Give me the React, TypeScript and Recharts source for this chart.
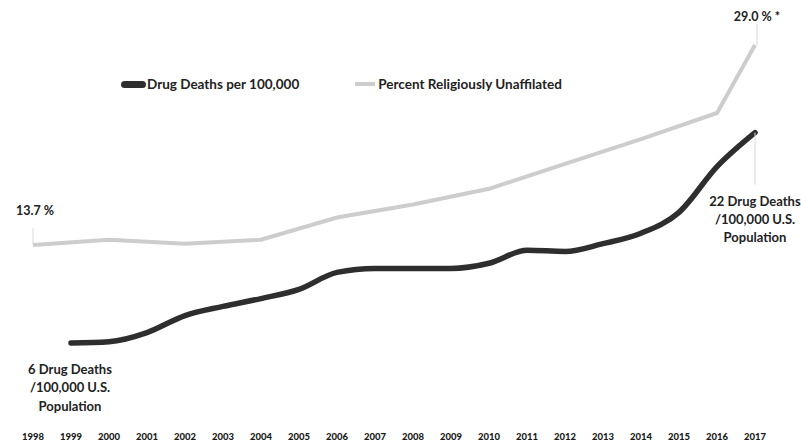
import React from "react";
import { LineChart, Line, XAxis, YAxis, LabelList } from "recharts";

const years = [1998, 1999, 2000, 2001, 2002, 2003, 2004, 2005, 2006, 2007, 2008, 2009, 2010, 2011, 2012, 2013, 2014, 2015, 2016, 2017];
const drugDeaths: (number | null)[] = [null, 6.2, 6.3, 7.0, 8.3, 9.0, 9.6, 10.3, 11.6, 11.9, 11.9, 11.9, 12.3, 13.3, 13.2, 13.8, 14.6, 16.2, 19.7, 22.3];
const unaffiliated: (number | null)[] = [13.7, null, 14.1, null, 13.8, null, 14.1, null, 15.8, null, 16.8, null, 18.0, null, 19.9, null, 21.8, null, 23.8, 29.0];
const seriesNames = ["Drug Deaths per 100,000", "Percent Religiously Unaffilated"];
const seriesColors = ["#2e2e2e", "#cdcdcd"];

const data = years.map((y, i) => ({ year: y, deaths: drugDeaths[i], unaff: unaffiliated[i] }));

const FONT = "Lato, 'Open Sans', sans-serif";
const lastIdx = years.length - 1;

const GrayLabel = (props: any) => {
  const { x, y, value, index } = props;
  if (value == null) return null;
  if (index === 0) {
    return (
      <g>
        <line x1={x} y1={y - 17} x2={x} y2={y} stroke="#d8d8d8" strokeWidth={1} />
        <text x={x + 2} y={y - 30} textAnchor="middle" fontFamily={FONT} fontWeight={700} fontSize={12.5} fill="#222">
          {`${Number(value).toFixed(1)} %`}
        </text>
      </g>
    );
  }
  if (index === lastIdx) {
    return (
      <g>
        <line x1={x + 2} y1={y - 21} x2={x + 2} y2={y} stroke="#d8d8d8" strokeWidth={1} />
        <text x={x + 2} y={y - 24} textAnchor="middle" fontFamily={FONT} fontWeight={700} fontSize={12.5} fill="#222">
          {`${Number(value).toFixed(1)} % *`}
        </text>
      </g>
    );
  }
  return null;
};

const BlackLabel = (props: any) => {
  const { x, y, value, index } = props;
  if (value == null) return null;
  const n = Math.round(Number(value));
  const lines = [`${n} Drug Deaths`, "/100,000 U.S.", "Population"];
  if (index === 1) {
    return (
      <g>
        {lines.map((t, k) => (
          <text key={k} x={x - 1} y={y + 31 + k * 18.5} textAnchor="middle" fontFamily={FONT} fontWeight={700} fontSize={13} fill="#222">
            {t}
          </text>
        ))}
      </g>
    );
  }
  if (index === lastIdx) {
    return (
      <g>
        <line x1={x} y1={y} x2={x} y2={y + 52} stroke="#d8d8d8" strokeWidth={1} />
        {lines.map((t, k) => (
          <text key={k} x={x} y={y + 73 + k * 18} textAnchor="middle" fontFamily={FONT} fontWeight={700} fontSize={13} fill="#222">
            {t}
          </text>
        ))}
      </g>
    );
  }
  return null;
};

export default function App() {
  return (
    <div style={{ position: "absolute", left: 0, top: 0, width: 801, height: 445, background: "#fff" }}>
      <LineChart
        width={801}
        height={445}
        data={data}
        margin={{ top: 32, right: 46, bottom: 0, left: 33 }}
      >
        <XAxis
          dataKey="year"
          type="number"
          domain={[1998, 2017]}
          ticks={years}
          interval={0}
          axisLine={false}
          tickLine={false}
          height={21}
          tickMargin={3}
          tick={{ fontFamily: FONT, fontWeight: 900, fontSize: 9.5, fill: "#1a1a1a" }}
        />
        <YAxis hide domain={[0, 30]} />
        <Line
          dataKey="unaff"
          type="linear"
          stroke={seriesColors[1]}
          strokeWidth={4}
          dot={false}
          connectNulls
          isAnimationActive={false}
        >
          <LabelList dataKey="unaff" content={GrayLabel} />
        </Line>
        <Line
          dataKey="deaths"
          type="monotone"
          stroke={seriesColors[0]}
          strokeWidth={5.5}
          strokeLinecap="round"
          strokeLinejoin="round"
          dot={false}
          isAnimationActive={false}
        >
          <LabelList dataKey="deaths" content={BlackLabel} />
        </Line>
      </LineChart>
      <div style={{ position: "absolute", left: 121, top: 76, display: "flex", alignItems: "center", fontFamily: FONT, fontWeight: 700, fontSize: 13.5, color: "#222" }}>
        <span style={{ display: "inline-block", width: 25, height: 7, borderRadius: 4, background: seriesColors[0], marginRight: 1 }} />
        <span>{seriesNames[0]}</span>
        <span style={{ display: "inline-block", width: 20, height: 4, background: seriesColors[1], marginLeft: 56, marginRight: 3 }} />
        <span>{seriesNames[1]}</span>
      </div>
    </div>
  );
}
